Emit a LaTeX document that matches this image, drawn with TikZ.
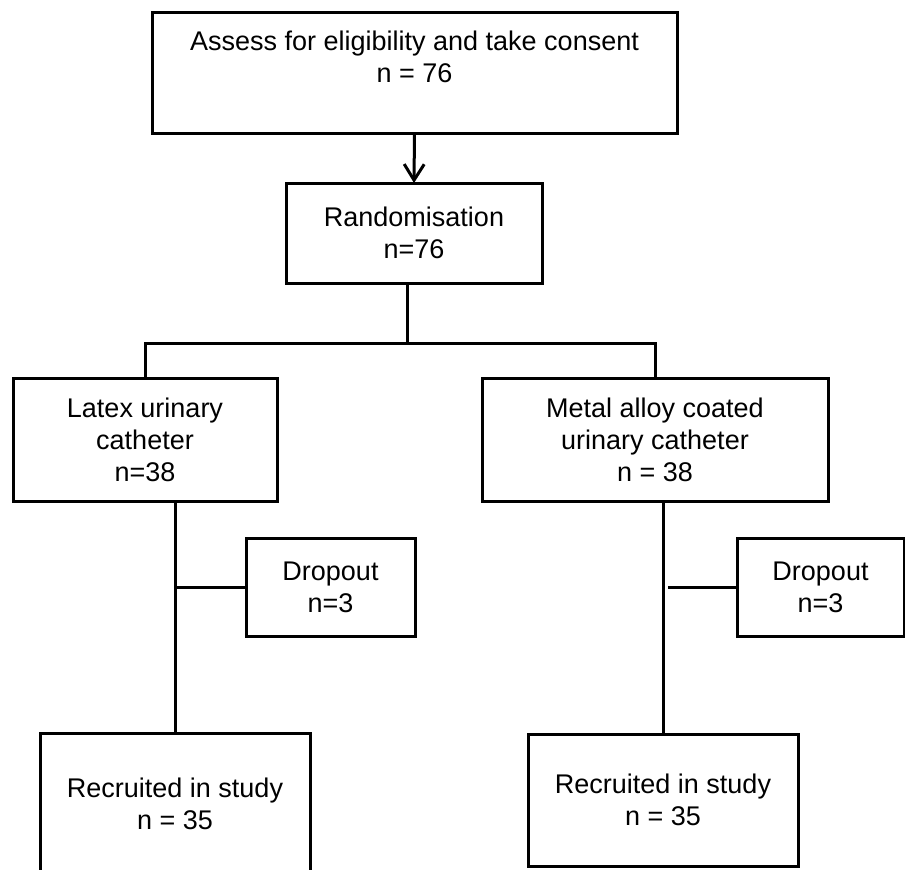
\documentclass[tikz,border=0pt]{standalone}
\usepackage{fontspec}
\setmainfont{Liberation Sans}
\usetikzlibrary{arrows.meta}

\begin{document}
\begin{tikzpicture}[
  x=1pt,y=-1pt,
  font=\fontsize{27}{32}\selectfont,
  stage/.style={draw=black,line width=3pt,align=center,inner sep=0pt,
    outer sep=0pt,fill=white},
  link/.style={line width=3pt},
  flow/.style={link,-{Straight Barb[length=16pt,width=20pt]}}
]
\useasboundingbox (0,0) rectangle (905,870);
\node[stage,minimum width=525,minimum height=121] (assess) at (414.5,72.5)
  {Assess for eligibility and take consent\\ n = 76\\ \mbox{}};
\node[stage,minimum width=256,minimum height=100] (rand) at (414,233)
  {Randomisation\\ n=76};
\node[stage,minimum width=264,minimum height=123] (latex) at (145,439.5)
  {Latex urinary\\ catheter\\ n=38};
\node[stage,minimum width=346,minimum height=123] (metal) at (655,439.5)
  {Metal alloy coated\\ urinary catheter\\ n = 38};
\node[stage,minimum width=169,minimum height=98] (dropL) at (330.5,587)
  {Dropout\\ n=3};
\node[stage,minimum width=167,minimum height=98] (dropR) at (820.5,587)
  {Dropout\\ n=3};
\node[stage,minimum width=270,minimum height=142] (recL) at (175,804)
  {Recruited in study\\ n = 35};
\node[stage,minimum width=270,minimum height=132] (recR) at (663,800)
  {Recruited in study\\ n = 35};
\coordinate (split) at (407,343);
% randomisation into two arms
\draw[flow] (assess.south) -- (rand.north);
\draw[link] (rand.south -| split) -- (split);
\draw[link] (latex.north) |- (split) -| (metal.north);
% follow-up in each arm
\draw[link] (latex.south -| recL.north) -- (recL.north);
\draw[link] (recL.north |- dropL.west) -- (dropL.west);
\draw[link] (metal.south -| recR.north) -- (recR.north);
\draw[link] ([xshift=5pt]recR.north |- dropR.west) -- (dropR.west);
\end{tikzpicture}
\end{document}
